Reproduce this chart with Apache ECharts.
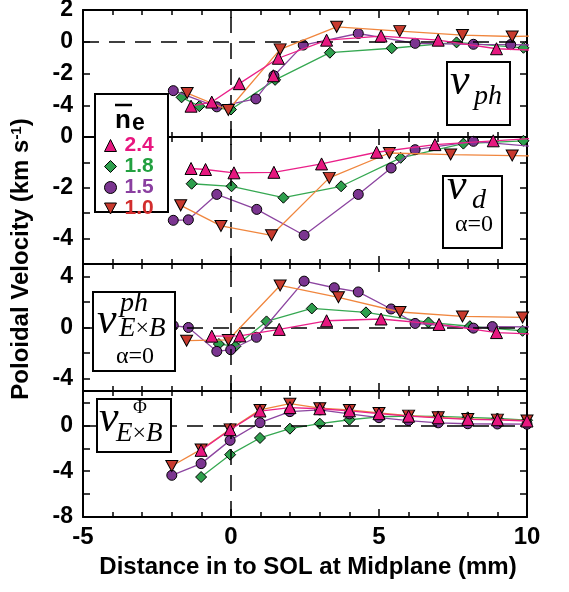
<!DOCTYPE html>
<html><head><meta charset="utf-8">
<script src="https://cdn.jsdelivr.net/npm/echarts@6/dist/echarts.min.js"></script>
<style>html,body{margin:0;padding:0;background:#fff}#c{width:569px;height:592px}</style>
</head><body><div id="c"></div>
<script>
// ---------- tick labels / categories ----------
const xTickLabels = [-5, 0, 5, 10];
const yLabels1 = [2, 0, -2, -4];
const yLabels2 = [0, -2, -4];
const yLabels3 = [4, 0, -4];
const yLabels4 = [0, -4, -8];
const densities = ['2.4', '1.8', '1.5', '1.0'];

// ---------- panel 1 : v_ph ----------
const vph24 = [[-1.35,-4.06],[-0.65,-3.8],[0.28,-2.64],[1.6,-1.04],[3.23,0.1],[5.07,0.36],[7.0,0.1],[8.97,-0.44],[10.5,-0.55]];
const vph24Lone = [[1.43,-2.14]];
const vph18 = [[-1.67,-3.5],[-1.07,-4.06],[0,-4.27],[1.49,-2.4],[3.34,-0.69],[5.43,-0.41],[7.62,-0.04],[9.88,-0.38]];
const vph15 = [[-1.95,-3.08],[-0.48,-4.1],[0.84,-3.6],[1.45,-2.14],[2.44,-0.21],[4.3,0.52],[6.22,-0.1],[8.19,-0.16],[9.45,-0.18],[10.5,-0.22]];
const vph10 = [[-1.48,-3.23],[-0.09,-4.3],[1.66,-0.48],[3.57,0.94],[5.7,0.67],[7.82,0.42],[9.5,0.33],[10.5,0.37]];

// ---------- panel 2 : v_d ----------
const vd24 = [[-1.35,-1.24],[-0.86,-1.28],[0.1,-1.41],[1.45,-1.39],[3.06,-1.06],[4.92,-0.6],[6.89,-0.3],[8.86,-0.15],[10.5,-0.03]];
const vd18 = [[-1.33,-1.84],[0.02,-1.94],[1.77,-2.39],[3.72,-1.94],[5.73,-0.82],[7.85,-0.26],[9.88,-0.15]];
const vd15 = [[-1.95,-3.28],[-1.44,-3.26],[-0.48,-2.26],[0.87,-2.85],[2.47,-3.87],[4.3,-2.26],[5.41,-1.22],[6.22,-0.5],[8.19,-0.17],[10.5,-0.4]];
const vd10 = [[-1.7,-2.69],[-0.34,-3.5],[1.37,-3.87],[3.32,-1.61],[5.35,-0.63],[7.42,-0.69],[9.5,-0.73],[10.5,-0.76]];

// ---------- panel 3 : v^ph_ExB ----------
const veph24 = [[-0.65,-0.68],[0.3,-0.66],[1.63,-0.15],[3.23,0.53],[5.07,0.67],[7.03,0.24],[8.97,-0.4],[10.5,-0.55]];
const veph18 = [[-0.41,-1.3],[0.15,-1.48],[1.2,0.48],[2.73,1.5],[4.56,1.19],[6.67,0.4],[8.07,0.1],[9.85,-0.26]];
const veph15 = [[-1.95,0.15],[-1.44,0.0],[-0.48,-1.88],[-0.01,-1.75],[0.86,-0.77],[2.47,3.65],[3.49,3.13],[4.3,2.8],[5.41,1.46],[6.22,0.32],[8.19,-0.05],[8.83,0.07],[10.5,0.05]];
const veph10 = [[-1.5,-1.04],[-0.09,-0.98],[1.66,3.31],[3.63,2.38],[5.71,1.22],[7.82,0.87],[9.85,0.79]];

// ---------- panel 4 : v^Phi_ExB ----------
const vephi24 = [[-1.01,-2.18],[-0.03,-0.38],[0.98,1.25],[1.99,1.55],[3,1.45],[4,1.27],[5,1.02],[6,0.8],[7,0.66],[8,0.52],[9,0.49],[10,0.38]];
const vephi18 = [[-1.01,-4.51],[-0.03,-2.56],[0.98,-1.1],[1.99,-0.29],[3,0.15],[4,0.49],[5,0.75],[6,0.8],[7,0.78],[8,0.7],[9,0.6],[10,0.45]];
const vephi15 = [[-2,-4.36],[-1.01,-3.34],[-0.03,-1.31],[0.98,0.23],[1.99,1.2],[3,1.35],[4,1.0],[5,0.67],[6,0.42],[7,0.22],[8,0.14],[9,0.12],[10,0.1]];
const vephi10 = [[-2,-3.55],[-1.01,-2.1],[-0.03,-0.35],[0.98,1.35],[1.99,1.89],[3,1.5],[4,1.35],[5,1.08],[6,0.85],[7,0.7],[8,0.56],[9,0.5],[10,0.42]];

// ---------- styles ----------
const SANS = '"Liberation Sans", Arial, sans-serif';
const SERIF = '"Liberation Serif", "Times New Roman", serif';
const DOWN_TRI = 'path://M0,0L12,0L6,11Z';
const sty = {
  '2.4': {symbol: 'triangle', size: 12, fill: '#e6177f', line: '#ea2089', text: '#e8157f'},
  '1.8': {symbol: 'diamond', size: 11, fill: '#2e9f4d', line: '#36a852', text: '#22a040'},
  '1.5': {symbol: 'circle', size: 10, fill: '#7b3590', line: '#8c45a0', text: '#8a3fa0'},
  '1.0': {symbol: DOWN_TRI, size: [12, 11], fill: '#c83a2e', line: '#f0863e', text: '#d22d2d'}
};

const grids = [
  {left: 83, width: 444, top: 10, height: 127},
  {left: 83, width: 444, top: 137, height: 127},
  {left: 83, width: 444, top: 264, height: 127},
  {left: 83, width: 444, top: 391, height: 126}
].map(g => Object.assign(g, {outerBoundsMode: 'none', containLabel: false}));

const axisLine = {show: true, onZero: false, lineStyle: {color: '#000', width: 2}};
const xAxes = [], yAxes = [];
grids.forEach((g, gi) => {
  ['bottom', 'top'].forEach(pos => {
    xAxes.push({
      type: 'value', gridIndex: gi, position: pos, min: -5, max: 10, interval: 5,
      axisLine, splitLine: {show: false},
      axisTick: {show: true, inside: true, length: 8, lineStyle: {color: '#000', width: 1.5}},
      minorTick: {show: true, splitNumber: 5, length: 5, lineStyle: {color: '#000', width: 1.5}},
      axisLabel: {
        show: gi === 3 && pos === 'bottom', margin: 8,
        fontFamily: SANS, fontWeight: 'bold', fontSize: 24, color: '#000',
        formatter: v => xTickLabels.some(l => Math.abs(l - v) < 1e-6) ? String(v) : ''
      }
    });
  });
});
const yCfg = [
  {min: -6, max: 2, interval: 2, labels: yLabels1},
  {min: -5, max: 0, interval: 1, labels: yLabels2},
  {min: -5, max: 5, splitNumber: 5, labels: yLabels3},
  {min: -8, max: 3, interval: 2, labels: yLabels4}
];
yCfg.forEach((c, gi) => {
  ['left', 'right'].forEach(pos => {
    const a = {
      type: 'value', gridIndex: gi, position: pos, min: c.min, max: c.max,
      axisLine, splitLine: {show: false},
      axisTick: {show: true, inside: true, length: 7, lineStyle: {color: '#000', width: 1.5}},
      axisLabel: {
        show: pos === 'left', margin: 10,
        fontFamily: SANS, fontWeight: 'bold', fontSize: 23, color: '#000',
        formatter: v => c.labels.some(l => Math.abs(l - v) < 1e-6) ? String(v) : ''
      }
    };
    if (c.interval) a.interval = c.interval; else a.splitNumber = c.splitNumber;
    yAxes.push(a);
  });
});

const panelData = [
  {'1.8': vph18, '1.5': vph15, '1.0': vph10, '2.4': vph24},
  {'1.8': vd18, '1.5': vd15, '1.0': vd10, '2.4': vd24},
  {'1.8': veph18, '1.5': veph15, '1.0': veph10, '2.4': veph24},
  {'1.8': vephi18, '1.5': vephi15, '1.0': vephi10, '2.4': vephi24}
];
const drawOrder = ['1.8', '1.5', '1.0', '2.4'];

function mkSeries(name, data, gi, z) {
  const s = sty[name];
  return {
    type: 'line', name, data, xAxisIndex: gi * 2, yAxisIndex: gi * 2,
    symbol: s.symbol, symbolSize: s.size, showSymbol: true, clip: true,
    itemStyle: {color: s.fill, borderColor: '#000', borderWidth: 1},
    lineStyle: {color: s.line, width: 1.3},
    z, animation: false, silent: true
  };
}
const series = [];
grids.forEach((g, gi) => {
  series.push({
    type: 'line', data: [], xAxisIndex: gi * 2, yAxisIndex: gi * 2, z: 1, silent: true,
    markLine: {
      silent: true, symbol: 'none', label: {show: false}, animation: false,
      lineStyle: {color: '#000', width: 1.5, type: [16, 10]},
      data: [{yAxis: 0}, {xAxis: 0}]
    }
  });
  drawOrder.forEach((n, k) => series.push(mkSeries(n, panelData[gi][n], gi, 3 + k)));
});
series.push(mkSeries('2.4', vph24Lone, 0, 7));

// ---------- annotations ----------
function box(x, y, w, h) {
  return {type: 'rect', z: 50, shape: {x, y, width: w, height: h},
    style: {fill: '#fff', stroke: '#000', lineWidth: 2}};
}
function txt(x, y, text, font, extra) {
  return Object.assign({type: 'text', z: 51, x, y,
    style: Object.assign({text, font, fill: '#000', align: 'left', verticalAlign: 'middle'}, extra || {})});
}
const vFont = 'italic 44px ' + SERIF;
const subFont = 'italic 28px ' + SERIF;
const greekFont = '24px ' + SERIF;
const exbRich = {
  i: {fontStyle: 'italic', fontSize: 27, fontFamily: SERIF},
  n: {fontSize: 24, fontFamily: SERIF}
};
const graphics = [
  // legend box
  box(95, 94, 73, 118),
  txt(115, 121, 'n', 'bold 26px ' + SANS),
  txt(132, 124, 'e', 'bold 23px ' + SANS),
  {type: 'line', z: 51, shape: {x1: 115, y1: 105, x2: 132, y2: 105}, style: {stroke: '#000', lineWidth: 2.5}},
  // panel 1 label
  box(447, 62, 63, 63),
  txt(450, 82, 'v', vFont),
  txt(474, 97, 'ph', subFont),
  // panel 2 label
  box(443, 176, 59, 72),
  txt(447, 187, 'v', vFont),
  txt(472, 201, 'd', subFont),
  txt(474, 225, 'α=0', greekFont, {align: 'center'}),
  // panel 3 label
  box(93, 292, 82, 79),
  txt(97, 321, 'v', vFont),
  txt(120, 304, 'ph', subFont),
  txt(119, 329, '{i|E}{n|×}{i|B}', null, {rich: exbRich}),
  txt(135, 357, 'α=0', greekFont, {align: 'center'}),
  // panel 4 label
  box(97, 399, 74, 53),
  txt(99, 419, 'v', vFont),
  txt(140, 408, 'Φ', '19px ' + SERIF, {align: 'center'}),
  txt(116, 434, '{i|E}{n|×}{i|B}', null, {rich: exbRich}),
  // axis titles
  {type: 'text', z: 51, x: 21, y: 259, rotation: Math.PI / 2,
    style: {text: '{a|Poloidal Velocity (km s}{b|-1}{a|)}', align: 'center', verticalAlign: 'middle', fill: '#000',
      rich: {a: {fontSize: 24, fontWeight: 'bold', fontFamily: SANS},
             b: {fontSize: 15, fontWeight: 'bold', fontFamily: SANS, verticalAlign: 'top'}}}},
  {type: 'text', z: 51, x: 308, y: 567,
    style: {text: 'Distance in to SOL at Midplane (mm)', font: 'bold 24px ' + SANS, fill: '#000', align: 'center', verticalAlign: 'middle'}}
];

const chart = echarts.init(document.getElementById('c'), null, {renderer: 'canvas'});
chart.setOption({
  animation: false,
  backgroundColor: '#fff',
  grid: grids,
  xAxis: xAxes,
  yAxis: yAxes,
  legend: {
    orient: 'vertical', left: 104, top: 135, itemWidth: 12, itemHeight: 12, itemGap: 0, padding: 0,
    z: 60, selectedMode: false,
    itemStyle: {borderColor: '#000', borderWidth: 1},
    textStyle: {fontFamily: SANS, fontWeight: 'bold', fontSize: 21, lineHeight: 19, padding: [0, 0, 0, 3]},
    data: densities.map(n => ({name: n, icon: sty[n].symbol, textStyle: {color: sty[n].text}}))
  },
  series,
  graphic: graphics
});
</script></body></html>
